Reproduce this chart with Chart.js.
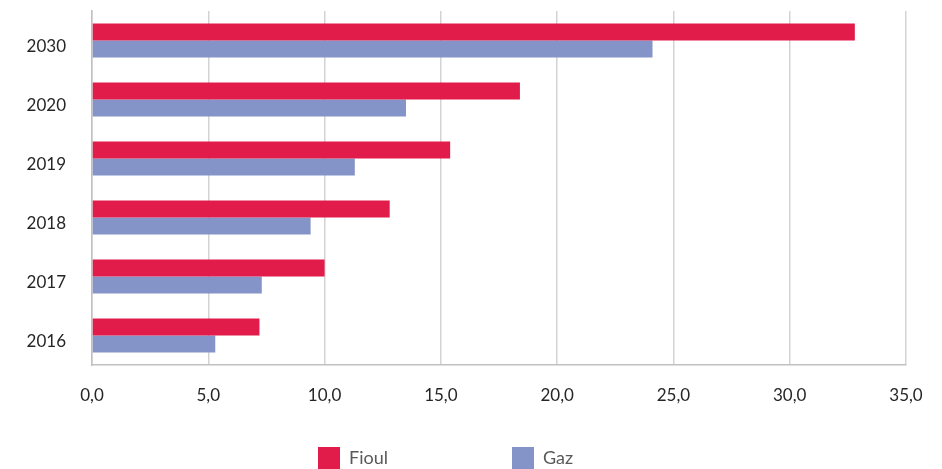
<!DOCTYPE html>
<html>
<head>
<meta charset="utf-8">
<script src="https://cdn.jsdelivr.net/npm/chart.js@4/dist/chart.umd.min.js"></script>
<style>
  html, body { margin: 0; padding: 0; background: #fff; }
  #wrap { width: 942px; height: 469px; }
</style>
</head>
<body>
<div id="wrap"><canvas id="chart" width="942" height="469"></canvas></div>
<script>
const YEARS = ["2030", "2020", "2019", "2018", "2017", "2016"];
const FIOUL = [32.8, 18.4, 15.4, 12.8, 10.0, 7.2];
const GAZ = [24.1, 13.5, 11.3, 9.4, 7.3, 5.3];
const X_TICKS = [0, 5, 10, 15, 20, 25, 30, 35];

const RED = "#e11c4b";
const BLUE = "#8493c8";
const FONT = "Lato, 'Noto Sans', sans-serif";

// legend drawn by hand: Excel spaces the items far apart
const bottomLegend = {
  id: "bottomLegend",
  afterDraw(chart) {
    const ctx = chart.ctx;
    const xs = [318, 512];
    ctx.save();
    ctx.font = "18px " + FONT;
    ctx.textBaseline = "middle";
    chart.data.datasets.forEach((ds, i) => {
      ctx.fillStyle = ds.backgroundColor;
      ctx.fillRect(xs[i], 447, 22, 22);
      ctx.fillStyle = "#595959";
      ctx.fillText(ds.label, xs[i] + 31, 458);
    });
    ctx.restore();
  },
};

const chart = new Chart(document.getElementById("chart"), {
  type: "bar",
  data: {
    labels: YEARS,
    datasets: [
      { label: "Fioul", data: FIOUL, backgroundColor: RED },
      { label: "Gaz", data: GAZ, backgroundColor: BLUE },
    ],
  },
  options: {
    indexAxis: "y",
    responsive: false,
    animation: false,
    layout: { padding: { left: 0, right: 36, top: 11, bottom: 0 } },
    datasets: {
      bar: { categoryPercentage: 0.58, barPercentage: 1.0 },
    },
    plugins: {
      legend: { display: false },
      tooltip: { enabled: false },
    },
    scales: {
      x: {
        min: 0,
        max: 35,
        afterBuildTicks: (s) => { s.ticks = X_TICKS.map((v) => ({ value: v })); },
        afterFit: (s) => { s.height = 104; s.paddingLeft = 0; s.paddingRight = 0; },
        grid: { color: "#d3d3d3", lineWidth: 1.5, drawTicks: false },
        border: { color: "#c0c0c0", width: 1.5 },
        ticks: {
          padding: 20,
          color: "#262626",
          font: { family: FONT, size: 17 },
          callback: (v) => Number(v).toFixed(1).replace(".", ","),
        },
      },
      y: {
        afterFit: (s) => { s.width = 92; s.paddingTop = 0; s.paddingBottom = 0; },
        grid: { display: false, drawTicks: false },
        border: { color: "#c0c0c0", width: 1.5 },
        ticks: {
          padding: 26,
          labelOffset: 6,
          color: "#262626",
          font: { family: FONT, size: 17 },
        },
      },
    },
  },
  plugins: [bottomLegend],
});
</script>
</body>
</html>
